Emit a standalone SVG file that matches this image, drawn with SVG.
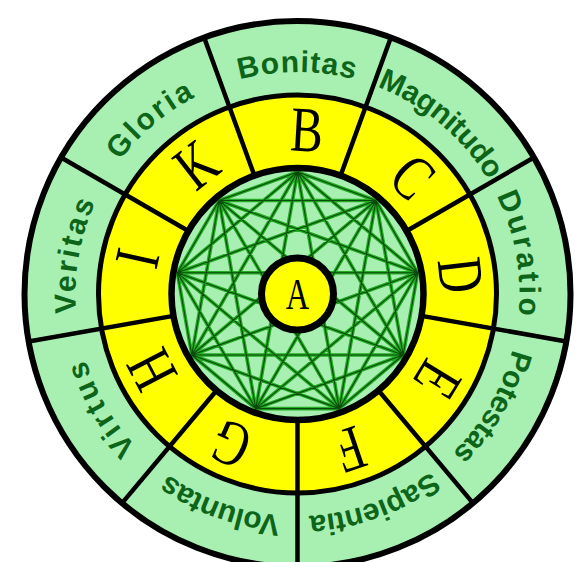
<svg xmlns="http://www.w3.org/2000/svg" xmlns:xlink="http://www.w3.org/1999/xlink" width="581" height="562" viewBox="0 0 581 562">
<style>
.ring{stroke:#000;fill:none}
.div{stroke:#000;stroke-width:4.5;stroke-linecap:round}
.lbl{font-family:"Liberation Sans",Arial,sans-serif;font-weight:bold;font-size:30px;fill:#0d6519}
.let{font-family:"Liberation Serif","Times New Roman",serif;font-size:64px;fill:#000}
.chU{fill:none;stroke:#22ab22;stroke-width:3.6;stroke-linecap:round}
.chO{fill:none;stroke:#0a4a0a;stroke-width:1.1;stroke-linecap:round}
</style>
<defs>
<path id="pBonitas" d="M105.24 183A222 222 0 0 1 489.76 183"/>
<path id="pMagnitudo" d="M221.57 85.39A222 222 0 0 1 516.13 332.55"/>
<path id="pDuratio" d="M373.43 85.39A222 222 0 0 1 440.2 464.06"/>
<path id="pPotestas" d="M489.76 183A222 222 0 0 1 297.5 516"/>
<path id="pSapientia" d="M516.13 332.55A222 222 0 0 1 154.8 464.06"/>
<path id="pVoluntas" d="M440.2 464.06A222 222 0 0 1 78.87 332.55"/>
<path id="pVirtus" d="M297.5 516A222 222 0 0 1 105.24 183"/>
<path id="pVeritas" d="M154.8 464.06A222 222 0 0 1 221.57 85.39"/>
<path id="pGloria" d="M78.87 332.55A222 222 0 0 1 373.43 85.39"/>
<path id="chords" d="M297.5 172L375.92 200.54M297.5 172L417.65 272.81M297.5 172L403.16 355M297.5 172L339.23 408.64M297.5 172L255.77 408.64M297.5 172L191.84 355M297.5 172L177.35 272.81M297.5 172L219.08 200.54
M375.92 200.54L417.65 272.81M375.92 200.54L403.16 355M375.92 200.54L339.23 408.64M375.92 200.54L255.77 408.64M375.92 200.54L191.84 355M375.92 200.54L177.35 272.81M375.92 200.54L219.08 200.54
M417.65 272.81L403.16 355M417.65 272.81L339.23 408.64M417.65 272.81L255.77 408.64M417.65 272.81L191.84 355M417.65 272.81L177.35 272.81M417.65 272.81L219.08 200.54
M403.16 355L339.23 408.64M403.16 355L255.77 408.64M403.16 355L191.84 355M403.16 355L177.35 272.81M403.16 355L219.08 200.54
M339.23 408.64L255.77 408.64M339.23 408.64L191.84 355M339.23 408.64L177.35 272.81M339.23 408.64L219.08 200.54
M255.77 408.64L191.84 355M255.77 408.64L177.35 272.81M255.77 408.64L219.08 200.54
M191.84 355L177.35 272.81M191.84 355L219.08 200.54
M177.35 272.81L219.08 200.54"/>
</defs>
<rect width="581" height="562" fill="#fff"/>
<g id="rings">
<circle cx="297.5" cy="294" r="273" fill="#a8f0b2"/>
<circle cx="297.5" cy="294" r="199" fill="#ffff00"/>
<circle cx="297.5" cy="294" r="126" fill="#a8f0b2"/>
</g>
<g id="connectors">
<use xlink:href="#chords" class="chU"/>
<use xlink:href="#chords" class="chO"/>
</g>
<g id="dividers">
<line class="div" x1="421.59" y1="315.88" x2="566.35" y2="341.41"/>
<line class="div" x1="378.49" y1="390.52" x2="472.98" y2="503.13"/>
<line class="div" x1="297.5" y1="420" x2="297.5" y2="567"/>
<line class="div" x1="216.51" y1="390.52" x2="122.02" y2="503.13"/>
<line class="div" x1="173.41" y1="315.88" x2="28.65" y2="341.41"/>
<line class="div" x1="188.38" y1="231" x2="61.07" y2="157.5"/>
<line class="div" x1="254.41" y1="175.6" x2="204.13" y2="37.46"/>
<line class="div" x1="340.59" y1="175.6" x2="390.87" y2="37.46"/>
<line class="div" x1="406.62" y1="231" x2="533.93" y2="157.5"/>
</g>
<g id="outlines">
<circle class="ring" cx="297.5" cy="294" r="273" stroke-width="6"/>
<circle class="ring" cx="297.5" cy="294" r="199" stroke-width="5"/>
<circle class="ring" cx="297.5" cy="294" r="126" stroke-width="6.5"/>
</g>
<g id="seg-B">
<text class="let" transform="rotate(3.3 297.5 294) translate(297.5 130) scale(0.76 1)" x="0" y="21" text-anchor="middle">B</text>
<text class="lbl" letter-spacing="1"><textPath xlink:href="#pBonitas" startOffset="50%" text-anchor="middle">Bonitas</textPath></text>
</g>
<g id="seg-C">
<text class="let" transform="rotate(44.5 297.5 294) translate(297.5 130) scale(0.76 1)" x="0" y="21" text-anchor="middle">C</text>
<text class="lbl" letter-spacing="-0.5"><textPath xlink:href="#pMagnitudo" startOffset="50%" text-anchor="middle">Magnitudo</textPath></text>
</g>
<g id="seg-D">
<text class="let" transform="rotate(83.4 297.5 294) translate(297.5 130) scale(0.76 1)" x="0" y="21" text-anchor="middle">D</text>
<text class="lbl" letter-spacing="3"><textPath xlink:href="#pDuratio" startOffset="50%" text-anchor="middle">Duratio</textPath></text>
</g>
<g id="seg-E">
<text class="let" transform="rotate(121.5 297.5 294) translate(297.5 130) scale(0.76 1)" x="0" y="21" text-anchor="middle">E</text>
<text class="lbl" letter-spacing="-0.5"><textPath xlink:href="#pPotestas" startOffset="50%" text-anchor="middle">Potestas</textPath></text>
</g>
<g id="seg-F">
<text class="let" transform="rotate(161.3 297.5 294) translate(297.5 130) scale(0.76 1)" x="0" y="21" text-anchor="middle">F</text>
<text class="lbl" letter-spacing="-0.2"><textPath xlink:href="#pSapientia" startOffset="50%" text-anchor="middle">Sapientia</textPath></text>
</g>
<g id="seg-G">
<text class="let" transform="rotate(203.9 297.5 294) translate(297.5 130) scale(0.76 1)" x="0" y="21" text-anchor="middle">G</text>
<text class="lbl" letter-spacing="-0.5"><textPath xlink:href="#pVoluntas" startOffset="50%" text-anchor="middle">Voluntas</textPath></text>
</g>
<g id="seg-H">
<text class="let" transform="rotate(242.5 297.5 294) translate(297.5 130) scale(0.76 1)" x="0" y="21" text-anchor="middle">H</text>
<text class="lbl" letter-spacing="3.5"><textPath xlink:href="#pVirtus" startOffset="50%" text-anchor="middle">Virtus</textPath></text>
</g>
<g id="seg-I">
<text class="let" transform="rotate(282.6 297.5 294) translate(297.5 130) scale(0.76 1)" x="0" y="21" text-anchor="middle">I</text>
<text class="lbl" letter-spacing="2.5"><textPath xlink:href="#pVeritas" startOffset="50%" text-anchor="middle">Veritas</textPath></text>
</g>
<g id="seg-K">
<text class="let" transform="rotate(322 297.5 294) translate(297.5 130) scale(0.76 1)" x="0" y="21" text-anchor="middle">K</text>
<text class="lbl" letter-spacing="2.5"><textPath xlink:href="#pGloria" startOffset="50%" text-anchor="middle">Gloria</textPath></text>
</g>
<g id="node-A">
<circle cx="297.5" cy="294" r="36" fill="#ffff00" stroke="#000" stroke-width="7"/>
<text transform="translate(297.5 309) scale(0.72 1)" x="0" y="0" text-anchor="middle" font-family="Liberation Serif,'Times New Roman',serif" font-size="45" fill="#000">A</text>
</g>
</svg>
